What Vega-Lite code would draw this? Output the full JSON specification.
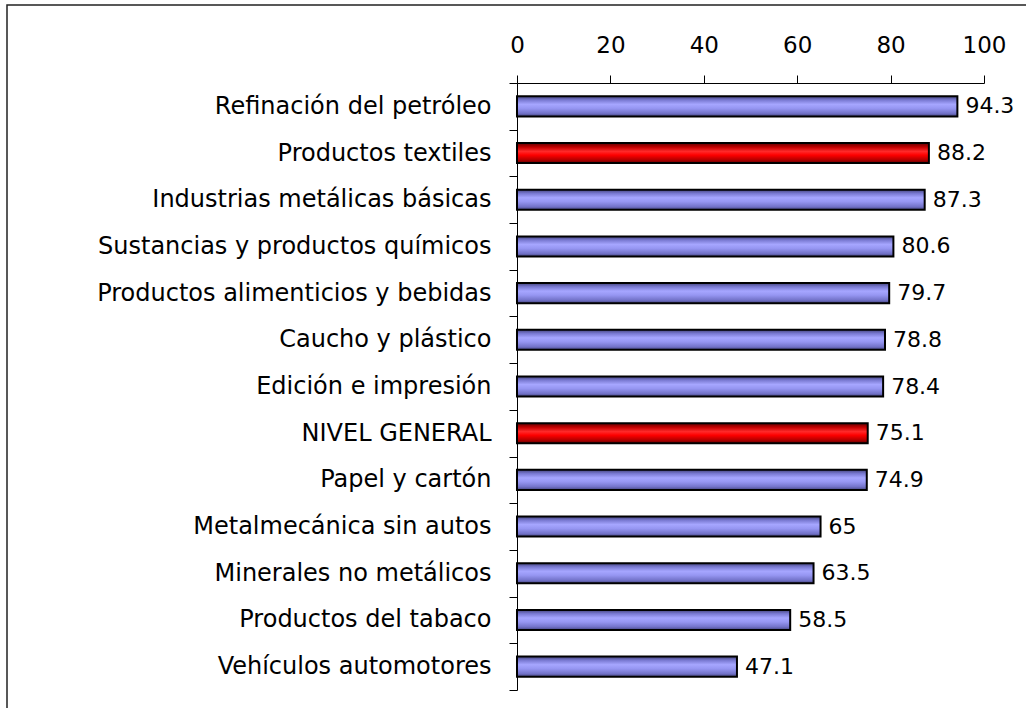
{
  "$schema": "https://vega.github.io/schema/vega-lite/v6.json",
  "autosize": {"type": "none"},
  "padding": {"left": 7, "top": 5, "right": -21, "bottom": -17},
  "width": 1040,
  "height": 720,
  "background": "white",
  "config": {
    "view": {"stroke": "#222", "strokeWidth": 1.5},
    "font": "DejaVu Sans"
  },
  "data": {
    "values": [
      {"sector": "Refinación del petróleo", "valor": 94.3, "destacado": false},
      {"sector": "Productos textiles", "valor": 88.2, "destacado": true},
      {"sector": "Industrias metálicas básicas", "valor": 87.3, "destacado": false},
      {"sector": "Sustancias y productos químicos", "valor": 80.6, "destacado": false},
      {"sector": "Productos alimenticios y bebidas", "valor": 79.7, "destacado": false},
      {"sector": "Caucho y plástico", "valor": 78.8, "destacado": false},
      {"sector": "Edición e impresión", "valor": 78.4, "destacado": false},
      {"sector": "NIVEL GENERAL", "valor": 75.1, "destacado": true},
      {"sector": "Papel y cartón", "valor": 74.9, "destacado": false},
      {"sector": "Metalmecánica sin autos", "valor": 65, "destacado": false},
      {"sector": "Minerales no metálicos", "valor": 63.5, "destacado": false},
      {"sector": "Productos del tabaco", "valor": 58.5, "destacado": false},
      {"sector": "Vehículos automotores", "valor": 47.1, "destacado": false}
    ]
  },
  "encoding": {
    "y": {
      "field": "sector",
      "type": "nominal",
      "sort": null,
      "scale": {"range": [78, 685], "paddingInner": 0, "paddingOuter": 0},
      "axis": {
        "orient": "left",
        "offset": -510,
        "title": null,
        "tickBand": "extent",
        "tickSize": 8,
        "tickColor": "#000",
        "domainColor": "#000",
        "labelFont": "DejaVu Sans",
        "labelFontSize": 24,
        "labelColor": "#000",
        "labelPadding": 18,
        "labelLimit": 600
      }
    },
    "x": {
      "field": "valor",
      "type": "quantitative",
      "scale": {"domain": [0, 100], "range": [510, 977], "nice": false},
      "axis": {
        "orient": "top",
        "offset": -78,
        "title": null,
        "values": [0, 20, 40, 60, 80, 100],
        "grid": false,
        "tickSize": 8,
        "tickColor": "#000",
        "domainColor": "#000",
        "labelFont": "DejaVu Sans",
        "labelFontSize": 23,
        "labelColor": "#000",
        "labelPadding": 18,
        "labelFlush": false
      }
    }
  },
  "layer": [
    {
      "mark": {"type": "bar", "stroke": "#000", "strokeWidth": 2, "cornerRadius": 0, "height": {"band": 0.43}},
      "encoding": {
        "fill": {
          "condition": {
            "test": "datum.destacado",
            "value": {
              "gradient": "linear", "x1": 0, "y1": 0, "x2": 0, "y2": 1,
              "stops": [
                {"offset": 0, "color": "#600000"},
                {"offset": 0.2, "color": "#c00000"},
                {"offset": 0.42, "color": "#ff2a2a"},
                {"offset": 0.6, "color": "#ff0000"},
                {"offset": 0.85, "color": "#b00000"},
                {"offset": 1, "color": "#600000"}
              ]
            }
          },
          "value": {
            "gradient": "linear", "x1": 0, "y1": 0, "x2": 0, "y2": 1,
            "stops": [
              {"offset": 0, "color": "#45457e"},
              {"offset": 0.18, "color": "#7878d0"},
              {"offset": 0.4, "color": "#a6a6ff"},
              {"offset": 0.6, "color": "#9696f2"},
              {"offset": 0.85, "color": "#7272c8"},
              {"offset": 1, "color": "#45457e"}
            ]
          }
        }
      }
    },
    {
      "mark": {"type": "text", "align": "left", "baseline": "middle", "dx": 8, "fontSize": 22, "font": "DejaVu Sans", "color": "#000"},
      "encoding": {
        "text": {"field": "valor", "type": "quantitative"}
      }
    }
  ]
}
